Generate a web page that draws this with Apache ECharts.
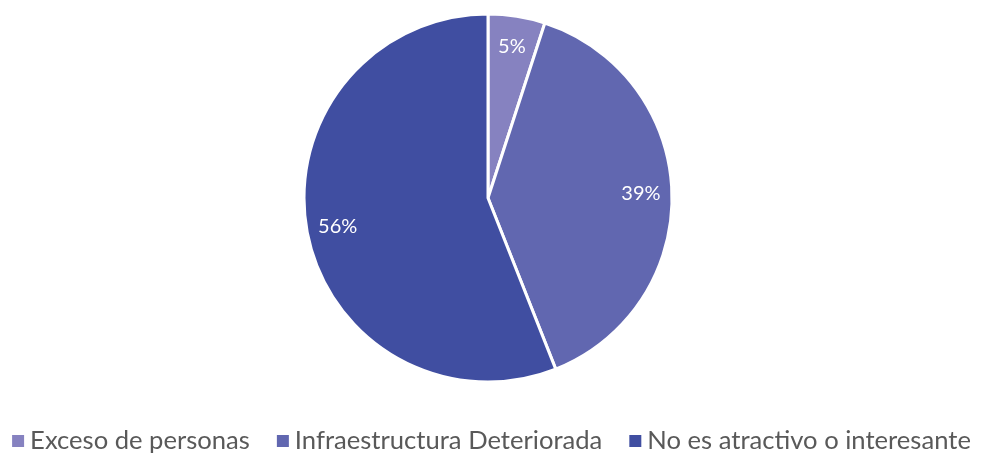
<!DOCTYPE html>
<html>
<head>
<meta charset="utf-8">
<script src="https://cdn.jsdelivr.net/npm/echarts@6/dist/echarts.min.js"></script>
<style>
  html, body { margin: 0; padding: 0; background: #fff; }
  #chart { width: 981px; height: 457px; }
</style>
</head>
<body>
<div id="chart"></div>
<script>
const categories = ['Exceso de personas', 'Infraestructura Deteriorada', 'No es atractivo o interesante']
const values = [5, 39, 56]
const colors = ['#8682c0', '#6167b0', '#404ea1']

let myChart = echarts.init(document.getElementById('chart'))

let pieData = categories.map((name, i) => ({ name: name, value: values[i] }))

let options = {
  color: colors,
  legend: {
    data: categories,
    bottom: -2,
    left: 'center',
    itemWidth: 14,
    itemHeight: 14,
    itemGap: 25,
    icon: 'rect',
    textStyle: { fontFamily: 'Lato', fontSize: 25.6, color: '#595959' }
  },
  series: [
    {
      type: 'pie',
      center: [488, 198],
      radius: [0, 184],
      startAngle: 90,
      clockwise: true,
      silent: true,
      itemStyle: { borderColor: '#fff', borderWidth: 3 },
      label: { show: false },
      labelLine: { show: false },
      data: pieData
    },
    {
      // label only ring, puts the percentages near the rim
      type: 'pie',
      center: [488, 198],
      radius: [116, 184],
      startAngle: 90,
      clockwise: true,
      silent: true,
      legendHoverLink: false,
      itemStyle: { color: 'transparent', borderWidth: 0 },
      label: {
        show: true,
        position: 'inside',
        formatter: '{d}%',
        color: '#fff',
        fontFamily: 'Lato',
        fontSize: 20
      },
      labelLine: { show: false },
      data: categories.map((name, i) => ({ name: name + ' ', value: values[i] }))
    }
  ]
}
myChart.setOption(options)
</script>
</body>
</html>
